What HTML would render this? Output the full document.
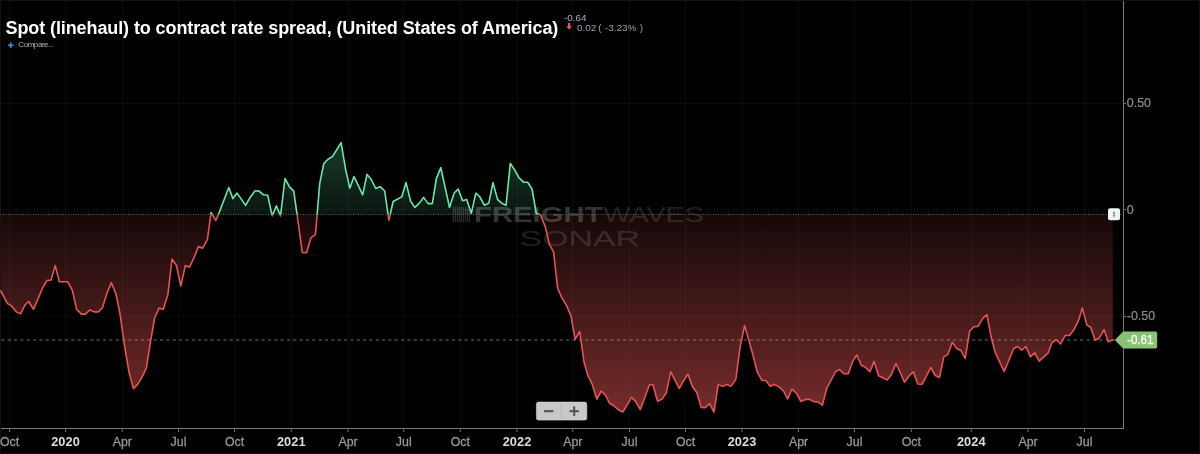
<!DOCTYPE html>
<html lang="en">
<head>
<meta charset="utf-8">
<title>Spot (linehaul) to contract rate spread</title>
<style>
html,body{margin:0;padding:0;background:#000;}
body{width:1200px;height:454px;overflow:hidden;position:relative;font-family:"Liberation Sans",sans-serif;}
#frame{position:absolute;left:0;top:0;width:1198px;height:452px;border:1px solid #121212;}
svg{position:absolute;left:0;top:0;}
.mo{font:12px "Liberation Sans",sans-serif;fill:#9a9a9a;stroke:#9a9a9a;stroke-width:0.25px;}
.yr{font:bold 12px "Liberation Sans",sans-serif;fill:#dcdcdc;}
.yl{font:12px "Liberation Sans",sans-serif;fill:#8e8e8e;stroke:#8e8e8e;stroke-width:0.2px;}
#title{position:absolute;left:5.5px;top:17px;font:bold 18px/22px "Liberation Sans",sans-serif;color:#fff;white-space:nowrap;letter-spacing:-0.1px;}
#cmp{position:absolute;left:18.3px;top:40px;font:8px/10px "Liberation Sans",sans-serif;color:#a9b0bf;white-space:nowrap;letter-spacing:-0.44px;}
#v1{position:absolute;left:564px;top:13.9px;font:8.2px/10px "Liberation Sans",sans-serif;color:#a6adbb;white-space:nowrap;transform:scaleX(1.2);transform-origin:0 0;}
#v2{position:absolute;left:577px;top:23.0px;font:9px/11px "Liberation Sans",sans-serif;color:#98a0b0;white-space:nowrap;transform:scaleX(1.105);transform-origin:0 0;}
#v2 span{margin-left:1.6px;word-spacing:0.6px;}
</style>
</head>
<body>
<div id="frame"></div>
<svg width="1200" height="454" viewBox="0 0 1200 454">
<defs>
<linearGradient id="gt" gradientUnits="userSpaceOnUse" x1="0" y1="0" x2="0" y2="214.5">
<stop offset="0" stop-color="#69f0ae" stop-opacity="0.55"/><stop offset="1" stop-color="#69f0ae" stop-opacity="0.09"/>
</linearGradient>
<linearGradient id="gb" gradientUnits="userSpaceOnUse" x1="0" y1="214.5" x2="0" y2="428">
<stop offset="0" stop-color="#e45454" stop-opacity="0.10"/><stop offset="1" stop-color="#e45454" stop-opacity="0.55"/>
</linearGradient>
<clipPath id="ct"><rect x="0" y="0" width="1123" height="214.5"/></clipPath>
<clipPath id="cb"><rect x="0" y="214.5" width="1123" height="213.5"/></clipPath>
</defs>
<g clip-path="url(#ct)"><path d="M0.8 214.5 L0.8 291.0 L7.5 303.6 L11.4 305.7 L16.4 311.9 L20.4 313.9 L25.1 304.9 L28.8 301.5 L33.5 309.4 L42.7 287.7 L46.9 280.5 L51.0 280.1 L55.2 265.6 L59.4 281.8 L67.8 281.8 L72.3 290.2 L76.7 309.4 L81.5 314.1 L85.4 314.1 L89.9 309.9 L94.6 311.9 L98.4 311.9 L102.4 307.7 L107.1 292.7 L111.3 282.6 L115.8 293.5 L119.7 311.9 L125.1 349.3 L129.3 373.6 L133.5 388.6 L137.7 384.4 L142.2 376.9 L146.4 367.7 L150.2 343.4 L154.6 318.0 L159.0 308.1 L163.2 309.4 L167.9 294.4 L172.0 259.0 L176.5 265.5 L180.8 286.0 L185.3 265.6 L189.5 267.2 L194.3 257.0 L198.5 246.4 L202.7 248.2 L207.4 239.4 L211.1 212.6 L215.8 220.5 L219.5 211.8 L228.8 187.5 L232.9 198.6 L237.1 193.1 L245.6 205.4 L250.3 197.2 L254.9 191.0 L258.7 190.8 L263.5 194.8 L267.7 195.2 L272.2 215.9 L276.4 205.9 L280.5 215.9 L285.0 178.5 L289.5 186.9 L293.7 191.1 L298.0 221.0 L302.3 252.4 L306.5 252.8 L311.0 237.7 L315.4 234.9 L319.7 183.6 L323.8 163.5 L328.0 159.3 L332.6 156.4 L341.1 142.6 L345.6 169.3 L349.8 188.2 L354.0 176.5 L362.7 194.8 L367.0 174.4 L371.0 179.0 L375.8 188.5 L380.2 186.7 L384.7 191.0 L388.9 220.3 L393.1 201.5 L401.8 196.9 L406.0 182.6 L410.7 201.5 L414.9 207.4 L419.4 203.1 L423.6 197.4 L428.1 203.6 L432.3 203.6 L436.4 178.5 L440.8 167.6 L449.5 207.4 L454.2 193.0 L458.2 189.0 L462.6 200.7 L466.7 199.4 L471.3 213.3 L475.8 193.2 L479.6 196.5 L484.3 205.2 L488.8 203.2 L493.0 182.6 L497.5 199.4 L502.2 203.6 L506.1 205.2 L510.3 163.4 L514.8 170.1 L518.9 177.6 L523.5 182.1 L527.7 182.3 L532.0 189.0 L536.3 213.4 L540.5 214.8 L545.2 226.5 L549.4 244.3 L553.6 251.8 L557.6 288.0 L561.8 297.6 L566.4 305.1 L571.0 316.0 L575.1 339.4 L579.7 331.5 L584.0 362.0 L588.1 376.0 L592.3 384.4 L596.8 399.1 L601.3 391.0 L605.2 394.9 L609.7 403.3 L613.9 405.8 L618.6 410.0 L622.8 412.0 L626.9 405.3 L631.5 397.4 L635.8 401.6 L640.3 409.5 L649.5 384.7 L652.9 384.7 L657.6 401.4 L662.1 399.1 L666.3 392.7 L670.8 371.8 L679.2 388.5 L683.9 380.2 L688.0 374.3 L692.2 386.0 L696.9 392.7 L701.1 407.4 L705.3 407.8 L709.5 403.6 L714.0 412.0 L718.2 384.4 L722.3 386.4 L726.9 384.4 L731.0 386.4 L735.8 379.4 L740.1 346.8 L744.6 325.6 L748.8 340.1 L753.0 355.2 L757.2 371.7 L761.8 380.2 L765.8 380.5 L770.1 386.3 L774.3 384.4 L778.8 386.6 L783.5 391.0 L787.7 399.0 L791.9 389.0 L796.4 393.2 L800.8 401.4 L805.3 399.4 L809.5 399.4 L813.6 401.5 L817.8 401.9 L822.3 405.2 L826.7 388.5 L835.4 371.8 L839.5 369.5 L844.0 373.8 L848.3 373.8 L852.6 361.4 L856.8 355.0 L861.3 365.2 L865.4 367.4 L869.9 371.7 L874.1 361.4 L878.6 375.7 L883.0 377.8 L887.2 380.0 L891.4 374.4 L895.9 363.5 L900.0 372.0 L904.5 382.3 L909.0 376.0 L913.5 371.8 L917.7 384.0 L922.1 384.3 L930.8 367.5 L935.2 375.5 L939.5 377.6 L943.8 356.9 L947.9 354.4 L952.3 342.3 L956.8 348.5 L961.0 350.5 L965.2 358.6 L969.7 331.0 L973.9 326.8 L978.1 326.4 L982.8 318.4 L986.9 314.7 L991.1 336.8 L995.3 352.7 L1004.2 371.5 L1013.7 348.5 L1017.6 346.5 L1021.8 350.2 L1025.9 346.5 L1030.5 356.9 L1034.6 352.7 L1039.2 361.1 L1048.0 353.1 L1052.2 342.3 L1056.4 339.8 L1060.6 344.0 L1065.1 335.5 L1069.5 335.5 L1073.6 330.1 L1078.2 321.4 L1082.3 308.0 L1086.9 325.1 L1090.7 327.3 L1095.2 340.2 L1099.6 337.7 L1104.1 329.6 L1108.3 341.8 L1112.8 339.8 L1112.8 214.5 Z" fill="url(#gt)"/></g>
<g clip-path="url(#cb)"><path d="M0.8 214.5 L0.8 291.0 L7.5 303.6 L11.4 305.7 L16.4 311.9 L20.4 313.9 L25.1 304.9 L28.8 301.5 L33.5 309.4 L42.7 287.7 L46.9 280.5 L51.0 280.1 L55.2 265.6 L59.4 281.8 L67.8 281.8 L72.3 290.2 L76.7 309.4 L81.5 314.1 L85.4 314.1 L89.9 309.9 L94.6 311.9 L98.4 311.9 L102.4 307.7 L107.1 292.7 L111.3 282.6 L115.8 293.5 L119.7 311.9 L125.1 349.3 L129.3 373.6 L133.5 388.6 L137.7 384.4 L142.2 376.9 L146.4 367.7 L150.2 343.4 L154.6 318.0 L159.0 308.1 L163.2 309.4 L167.9 294.4 L172.0 259.0 L176.5 265.5 L180.8 286.0 L185.3 265.6 L189.5 267.2 L194.3 257.0 L198.5 246.4 L202.7 248.2 L207.4 239.4 L211.1 212.6 L215.8 220.5 L219.5 211.8 L228.8 187.5 L232.9 198.6 L237.1 193.1 L245.6 205.4 L250.3 197.2 L254.9 191.0 L258.7 190.8 L263.5 194.8 L267.7 195.2 L272.2 215.9 L276.4 205.9 L280.5 215.9 L285.0 178.5 L289.5 186.9 L293.7 191.1 L298.0 221.0 L302.3 252.4 L306.5 252.8 L311.0 237.7 L315.4 234.9 L319.7 183.6 L323.8 163.5 L328.0 159.3 L332.6 156.4 L341.1 142.6 L345.6 169.3 L349.8 188.2 L354.0 176.5 L362.7 194.8 L367.0 174.4 L371.0 179.0 L375.8 188.5 L380.2 186.7 L384.7 191.0 L388.9 220.3 L393.1 201.5 L401.8 196.9 L406.0 182.6 L410.7 201.5 L414.9 207.4 L419.4 203.1 L423.6 197.4 L428.1 203.6 L432.3 203.6 L436.4 178.5 L440.8 167.6 L449.5 207.4 L454.2 193.0 L458.2 189.0 L462.6 200.7 L466.7 199.4 L471.3 213.3 L475.8 193.2 L479.6 196.5 L484.3 205.2 L488.8 203.2 L493.0 182.6 L497.5 199.4 L502.2 203.6 L506.1 205.2 L510.3 163.4 L514.8 170.1 L518.9 177.6 L523.5 182.1 L527.7 182.3 L532.0 189.0 L536.3 213.4 L540.5 214.8 L545.2 226.5 L549.4 244.3 L553.6 251.8 L557.6 288.0 L561.8 297.6 L566.4 305.1 L571.0 316.0 L575.1 339.4 L579.7 331.5 L584.0 362.0 L588.1 376.0 L592.3 384.4 L596.8 399.1 L601.3 391.0 L605.2 394.9 L609.7 403.3 L613.9 405.8 L618.6 410.0 L622.8 412.0 L626.9 405.3 L631.5 397.4 L635.8 401.6 L640.3 409.5 L649.5 384.7 L652.9 384.7 L657.6 401.4 L662.1 399.1 L666.3 392.7 L670.8 371.8 L679.2 388.5 L683.9 380.2 L688.0 374.3 L692.2 386.0 L696.9 392.7 L701.1 407.4 L705.3 407.8 L709.5 403.6 L714.0 412.0 L718.2 384.4 L722.3 386.4 L726.9 384.4 L731.0 386.4 L735.8 379.4 L740.1 346.8 L744.6 325.6 L748.8 340.1 L753.0 355.2 L757.2 371.7 L761.8 380.2 L765.8 380.5 L770.1 386.3 L774.3 384.4 L778.8 386.6 L783.5 391.0 L787.7 399.0 L791.9 389.0 L796.4 393.2 L800.8 401.4 L805.3 399.4 L809.5 399.4 L813.6 401.5 L817.8 401.9 L822.3 405.2 L826.7 388.5 L835.4 371.8 L839.5 369.5 L844.0 373.8 L848.3 373.8 L852.6 361.4 L856.8 355.0 L861.3 365.2 L865.4 367.4 L869.9 371.7 L874.1 361.4 L878.6 375.7 L883.0 377.8 L887.2 380.0 L891.4 374.4 L895.9 363.5 L900.0 372.0 L904.5 382.3 L909.0 376.0 L913.5 371.8 L917.7 384.0 L922.1 384.3 L930.8 367.5 L935.2 375.5 L939.5 377.6 L943.8 356.9 L947.9 354.4 L952.3 342.3 L956.8 348.5 L961.0 350.5 L965.2 358.6 L969.7 331.0 L973.9 326.8 L978.1 326.4 L982.8 318.4 L986.9 314.7 L991.1 336.8 L995.3 352.7 L1004.2 371.5 L1013.7 348.5 L1017.6 346.5 L1021.8 350.2 L1025.9 346.5 L1030.5 356.9 L1034.6 352.7 L1039.2 361.1 L1048.0 353.1 L1052.2 342.3 L1056.4 339.8 L1060.6 344.0 L1065.1 335.5 L1069.5 335.5 L1073.6 330.1 L1078.2 321.4 L1082.3 308.0 L1086.9 325.1 L1090.7 327.3 L1095.2 340.2 L1099.6 337.7 L1104.1 329.6 L1108.3 341.8 L1112.8 339.8 L1112.8 214.5 Z" fill="url(#gb)"/></g>
<g stroke="rgba(255,255,255,0.04)" stroke-width="1" shape-rendering="crispEdges"><line x1="9.5" y1="1" x2="9.5" y2="428" /><line x1="65.5" y1="1" x2="65.5" y2="428" /><line x1="122.25" y1="1" x2="122.25" y2="428" /><line x1="178.5" y1="1" x2="178.5" y2="428" /><line x1="234.5" y1="1" x2="234.5" y2="428" /><line x1="291.25" y1="1" x2="291.25" y2="428" /><line x1="348" y1="1" x2="348" y2="428" /><line x1="403.75" y1="1" x2="403.75" y2="428" /><line x1="460.25" y1="1" x2="460.25" y2="428" /><line x1="517" y1="1" x2="517" y2="428" /><line x1="572.75" y1="1" x2="572.75" y2="428" /><line x1="629.5" y1="1" x2="629.5" y2="428" /><line x1="685.5" y1="1" x2="685.5" y2="428" /><line x1="742" y1="1" x2="742" y2="428" /><line x1="798.5" y1="1" x2="798.5" y2="428" /><line x1="854.5" y1="1" x2="854.5" y2="428" /><line x1="911.25" y1="1" x2="911.25" y2="428" /><line x1="971.25" y1="1" x2="971.25" y2="428" /><line x1="1028" y1="1" x2="1028" y2="428" /><line x1="1084.5" y1="1" x2="1084.5" y2="428" /><line x1="0" y1="103" x2="1123" y2="103" /><line x1="0" y1="209.5" x2="1123" y2="209.5" /><line x1="0" y1="316" x2="1123" y2="316" /></g>
<g id="wm" fill="#ffffff" fill-opacity="0.17">
<g id="wmicon"><rect x="452.70" y="206.8" width="1.25" height="15.2"/><rect x="454.72" y="206.8" width="1.25" height="15.2"/><rect x="456.74" y="206.8" width="1.25" height="15.2"/><rect x="458.76" y="206.8" width="1.25" height="15.2"/><rect x="460.78" y="206.8" width="1.25" height="15.2"/><rect x="462.80" y="206.8" width="1.25" height="15.2"/><rect x="464.82" y="206.8" width="1.25" height="15.2"/><rect x="466.84" y="206.8" width="1.25" height="15.2"/><rect x="468.86" y="206.8" width="1.25" height="15.2"/></g>
<text x="474" y="222" textLength="128.6" lengthAdjust="spacingAndGlyphs" fill-opacity="0.2" style="font:bold 21.3px 'Liberation Sans',sans-serif">FREIGHT</text>
<text x="603.4" y="222" textLength="100.4" lengthAdjust="spacingAndGlyphs" fill-opacity="0.12" style="font:21.3px 'Liberation Sans',sans-serif">WAVES</text>
<text x="519.6" y="246.4" textLength="120.5" lengthAdjust="spacingAndGlyphs" fill-opacity="0.12" style="font:22.8px 'Liberation Sans',sans-serif">SONAR</text>
</g>
<line x1="0" y1="214.5" x2="1123" y2="214.5" stroke="#55646a" stroke-width="1" stroke-dasharray="1 1.5" stroke-dashoffset="-0.5"/>
<line x1="0" y1="340" x2="1116" y2="340" stroke="#96b97d" stroke-opacity="0.43" stroke-width="1.4" stroke-dasharray="3.2 3.145" stroke-dashoffset="-1.33"/>
<g clip-path="url(#ct)"><path d="M0.8 291.0 L7.5 303.6 L11.4 305.7 L16.4 311.9 L20.4 313.9 L25.1 304.9 L28.8 301.5 L33.5 309.4 L42.7 287.7 L46.9 280.5 L51.0 280.1 L55.2 265.6 L59.4 281.8 L67.8 281.8 L72.3 290.2 L76.7 309.4 L81.5 314.1 L85.4 314.1 L89.9 309.9 L94.6 311.9 L98.4 311.9 L102.4 307.7 L107.1 292.7 L111.3 282.6 L115.8 293.5 L119.7 311.9 L125.1 349.3 L129.3 373.6 L133.5 388.6 L137.7 384.4 L142.2 376.9 L146.4 367.7 L150.2 343.4 L154.6 318.0 L159.0 308.1 L163.2 309.4 L167.9 294.4 L172.0 259.0 L176.5 265.5 L180.8 286.0 L185.3 265.6 L189.5 267.2 L194.3 257.0 L198.5 246.4 L202.7 248.2 L207.4 239.4 L211.1 212.6 L215.8 220.5 L219.5 211.8 L228.8 187.5 L232.9 198.6 L237.1 193.1 L245.6 205.4 L250.3 197.2 L254.9 191.0 L258.7 190.8 L263.5 194.8 L267.7 195.2 L272.2 215.9 L276.4 205.9 L280.5 215.9 L285.0 178.5 L289.5 186.9 L293.7 191.1 L298.0 221.0 L302.3 252.4 L306.5 252.8 L311.0 237.7 L315.4 234.9 L319.7 183.6 L323.8 163.5 L328.0 159.3 L332.6 156.4 L341.1 142.6 L345.6 169.3 L349.8 188.2 L354.0 176.5 L362.7 194.8 L367.0 174.4 L371.0 179.0 L375.8 188.5 L380.2 186.7 L384.7 191.0 L388.9 220.3 L393.1 201.5 L401.8 196.9 L406.0 182.6 L410.7 201.5 L414.9 207.4 L419.4 203.1 L423.6 197.4 L428.1 203.6 L432.3 203.6 L436.4 178.5 L440.8 167.6 L449.5 207.4 L454.2 193.0 L458.2 189.0 L462.6 200.7 L466.7 199.4 L471.3 213.3 L475.8 193.2 L479.6 196.5 L484.3 205.2 L488.8 203.2 L493.0 182.6 L497.5 199.4 L502.2 203.6 L506.1 205.2 L510.3 163.4 L514.8 170.1 L518.9 177.6 L523.5 182.1 L527.7 182.3 L532.0 189.0 L536.3 213.4 L540.5 214.8 L545.2 226.5 L549.4 244.3 L553.6 251.8 L557.6 288.0 L561.8 297.6 L566.4 305.1 L571.0 316.0 L575.1 339.4 L579.7 331.5 L584.0 362.0 L588.1 376.0 L592.3 384.4 L596.8 399.1 L601.3 391.0 L605.2 394.9 L609.7 403.3 L613.9 405.8 L618.6 410.0 L622.8 412.0 L626.9 405.3 L631.5 397.4 L635.8 401.6 L640.3 409.5 L649.5 384.7 L652.9 384.7 L657.6 401.4 L662.1 399.1 L666.3 392.7 L670.8 371.8 L679.2 388.5 L683.9 380.2 L688.0 374.3 L692.2 386.0 L696.9 392.7 L701.1 407.4 L705.3 407.8 L709.5 403.6 L714.0 412.0 L718.2 384.4 L722.3 386.4 L726.9 384.4 L731.0 386.4 L735.8 379.4 L740.1 346.8 L744.6 325.6 L748.8 340.1 L753.0 355.2 L757.2 371.7 L761.8 380.2 L765.8 380.5 L770.1 386.3 L774.3 384.4 L778.8 386.6 L783.5 391.0 L787.7 399.0 L791.9 389.0 L796.4 393.2 L800.8 401.4 L805.3 399.4 L809.5 399.4 L813.6 401.5 L817.8 401.9 L822.3 405.2 L826.7 388.5 L835.4 371.8 L839.5 369.5 L844.0 373.8 L848.3 373.8 L852.6 361.4 L856.8 355.0 L861.3 365.2 L865.4 367.4 L869.9 371.7 L874.1 361.4 L878.6 375.7 L883.0 377.8 L887.2 380.0 L891.4 374.4 L895.9 363.5 L900.0 372.0 L904.5 382.3 L909.0 376.0 L913.5 371.8 L917.7 384.0 L922.1 384.3 L930.8 367.5 L935.2 375.5 L939.5 377.6 L943.8 356.9 L947.9 354.4 L952.3 342.3 L956.8 348.5 L961.0 350.5 L965.2 358.6 L969.7 331.0 L973.9 326.8 L978.1 326.4 L982.8 318.4 L986.9 314.7 L991.1 336.8 L995.3 352.7 L1004.2 371.5 L1013.7 348.5 L1017.6 346.5 L1021.8 350.2 L1025.9 346.5 L1030.5 356.9 L1034.6 352.7 L1039.2 361.1 L1048.0 353.1 L1052.2 342.3 L1056.4 339.8 L1060.6 344.0 L1065.1 335.5 L1069.5 335.5 L1073.6 330.1 L1078.2 321.4 L1082.3 308.0 L1086.9 325.1 L1090.7 327.3 L1095.2 340.2 L1099.6 337.7 L1104.1 329.6 L1108.3 341.8 L1112.8 339.8" fill="none" stroke="#69e8a8" stroke-width="1.6" stroke-linejoin="round" stroke-linecap="round"/></g>
<g clip-path="url(#cb)"><path d="M0.8 291.0 L7.5 303.6 L11.4 305.7 L16.4 311.9 L20.4 313.9 L25.1 304.9 L28.8 301.5 L33.5 309.4 L42.7 287.7 L46.9 280.5 L51.0 280.1 L55.2 265.6 L59.4 281.8 L67.8 281.8 L72.3 290.2 L76.7 309.4 L81.5 314.1 L85.4 314.1 L89.9 309.9 L94.6 311.9 L98.4 311.9 L102.4 307.7 L107.1 292.7 L111.3 282.6 L115.8 293.5 L119.7 311.9 L125.1 349.3 L129.3 373.6 L133.5 388.6 L137.7 384.4 L142.2 376.9 L146.4 367.7 L150.2 343.4 L154.6 318.0 L159.0 308.1 L163.2 309.4 L167.9 294.4 L172.0 259.0 L176.5 265.5 L180.8 286.0 L185.3 265.6 L189.5 267.2 L194.3 257.0 L198.5 246.4 L202.7 248.2 L207.4 239.4 L211.1 212.6 L215.8 220.5 L219.5 211.8 L228.8 187.5 L232.9 198.6 L237.1 193.1 L245.6 205.4 L250.3 197.2 L254.9 191.0 L258.7 190.8 L263.5 194.8 L267.7 195.2 L272.2 215.9 L276.4 205.9 L280.5 215.9 L285.0 178.5 L289.5 186.9 L293.7 191.1 L298.0 221.0 L302.3 252.4 L306.5 252.8 L311.0 237.7 L315.4 234.9 L319.7 183.6 L323.8 163.5 L328.0 159.3 L332.6 156.4 L341.1 142.6 L345.6 169.3 L349.8 188.2 L354.0 176.5 L362.7 194.8 L367.0 174.4 L371.0 179.0 L375.8 188.5 L380.2 186.7 L384.7 191.0 L388.9 220.3 L393.1 201.5 L401.8 196.9 L406.0 182.6 L410.7 201.5 L414.9 207.4 L419.4 203.1 L423.6 197.4 L428.1 203.6 L432.3 203.6 L436.4 178.5 L440.8 167.6 L449.5 207.4 L454.2 193.0 L458.2 189.0 L462.6 200.7 L466.7 199.4 L471.3 213.3 L475.8 193.2 L479.6 196.5 L484.3 205.2 L488.8 203.2 L493.0 182.6 L497.5 199.4 L502.2 203.6 L506.1 205.2 L510.3 163.4 L514.8 170.1 L518.9 177.6 L523.5 182.1 L527.7 182.3 L532.0 189.0 L536.3 213.4 L540.5 214.8 L545.2 226.5 L549.4 244.3 L553.6 251.8 L557.6 288.0 L561.8 297.6 L566.4 305.1 L571.0 316.0 L575.1 339.4 L579.7 331.5 L584.0 362.0 L588.1 376.0 L592.3 384.4 L596.8 399.1 L601.3 391.0 L605.2 394.9 L609.7 403.3 L613.9 405.8 L618.6 410.0 L622.8 412.0 L626.9 405.3 L631.5 397.4 L635.8 401.6 L640.3 409.5 L649.5 384.7 L652.9 384.7 L657.6 401.4 L662.1 399.1 L666.3 392.7 L670.8 371.8 L679.2 388.5 L683.9 380.2 L688.0 374.3 L692.2 386.0 L696.9 392.7 L701.1 407.4 L705.3 407.8 L709.5 403.6 L714.0 412.0 L718.2 384.4 L722.3 386.4 L726.9 384.4 L731.0 386.4 L735.8 379.4 L740.1 346.8 L744.6 325.6 L748.8 340.1 L753.0 355.2 L757.2 371.7 L761.8 380.2 L765.8 380.5 L770.1 386.3 L774.3 384.4 L778.8 386.6 L783.5 391.0 L787.7 399.0 L791.9 389.0 L796.4 393.2 L800.8 401.4 L805.3 399.4 L809.5 399.4 L813.6 401.5 L817.8 401.9 L822.3 405.2 L826.7 388.5 L835.4 371.8 L839.5 369.5 L844.0 373.8 L848.3 373.8 L852.6 361.4 L856.8 355.0 L861.3 365.2 L865.4 367.4 L869.9 371.7 L874.1 361.4 L878.6 375.7 L883.0 377.8 L887.2 380.0 L891.4 374.4 L895.9 363.5 L900.0 372.0 L904.5 382.3 L909.0 376.0 L913.5 371.8 L917.7 384.0 L922.1 384.3 L930.8 367.5 L935.2 375.5 L939.5 377.6 L943.8 356.9 L947.9 354.4 L952.3 342.3 L956.8 348.5 L961.0 350.5 L965.2 358.6 L969.7 331.0 L973.9 326.8 L978.1 326.4 L982.8 318.4 L986.9 314.7 L991.1 336.8 L995.3 352.7 L1004.2 371.5 L1013.7 348.5 L1017.6 346.5 L1021.8 350.2 L1025.9 346.5 L1030.5 356.9 L1034.6 352.7 L1039.2 361.1 L1048.0 353.1 L1052.2 342.3 L1056.4 339.8 L1060.6 344.0 L1065.1 335.5 L1069.5 335.5 L1073.6 330.1 L1078.2 321.4 L1082.3 308.0 L1086.9 325.1 L1090.7 327.3 L1095.2 340.2 L1099.6 337.7 L1104.1 329.6 L1108.3 341.8 L1112.8 339.8" fill="none" stroke="#e45454" stroke-width="1.6" stroke-linejoin="round" stroke-linecap="round"/></g>
<g stroke="#7a7a7a" stroke-width="1" shape-rendering="crispEdges">
<line x1="1123.5" y1="1" x2="1123.5" y2="428.5"/>
<line x1="1" y1="428.5" x2="1124" y2="428.5"/>
</g>
<g stroke="#6e6e6e" stroke-width="1"><line x1="9.5" y1="428" x2="9.5" y2="432" /><line x1="65.5" y1="428" x2="65.5" y2="432" /><line x1="122.25" y1="428" x2="122.25" y2="432" /><line x1="178.5" y1="428" x2="178.5" y2="432" /><line x1="234.5" y1="428" x2="234.5" y2="432" /><line x1="291.25" y1="428" x2="291.25" y2="432" /><line x1="348" y1="428" x2="348" y2="432" /><line x1="403.75" y1="428" x2="403.75" y2="432" /><line x1="460.25" y1="428" x2="460.25" y2="432" /><line x1="517" y1="428" x2="517" y2="432" /><line x1="572.75" y1="428" x2="572.75" y2="432" /><line x1="629.5" y1="428" x2="629.5" y2="432" /><line x1="685.5" y1="428" x2="685.5" y2="432" /><line x1="742" y1="428" x2="742" y2="432" /><line x1="798.5" y1="428" x2="798.5" y2="432" /><line x1="854.5" y1="428" x2="854.5" y2="432" /><line x1="911.25" y1="428" x2="911.25" y2="432" /><line x1="971.25" y1="428" x2="971.25" y2="432" /><line x1="1028" y1="428" x2="1028" y2="432" /><line x1="1084.5" y1="428" x2="1084.5" y2="432" /></g><g stroke="#6e6e6e" stroke-width="1" shape-rendering="crispEdges"><line x1="1123" y1="103" x2="1125.6" y2="103" /><line x1="1123" y1="209.5" x2="1125.6" y2="209.5" /><line x1="1123" y1="316" x2="1125.6" y2="316" /></g>
<text transform="translate(9.5 445.7) scale(1.03 1)" text-anchor="middle" class="mo">Oct</text><text transform="translate(65.5 445.7) scale(1.07 1)" text-anchor="middle" class="yr">2020</text><text transform="translate(122.25 445.7) scale(1.03 1)" text-anchor="middle" class="mo">Apr</text><text transform="translate(178.5 445.7) scale(1.03 1)" text-anchor="middle" class="mo">Jul</text><text transform="translate(234.5 445.7) scale(1.03 1)" text-anchor="middle" class="mo">Oct</text><text transform="translate(291.25 445.7) scale(1.07 1)" text-anchor="middle" class="yr">2021</text><text transform="translate(348 445.7) scale(1.03 1)" text-anchor="middle" class="mo">Apr</text><text transform="translate(403.75 445.7) scale(1.03 1)" text-anchor="middle" class="mo">Jul</text><text transform="translate(460.25 445.7) scale(1.03 1)" text-anchor="middle" class="mo">Oct</text><text transform="translate(517 445.7) scale(1.07 1)" text-anchor="middle" class="yr">2022</text><text transform="translate(572.75 445.7) scale(1.03 1)" text-anchor="middle" class="mo">Apr</text><text transform="translate(629.5 445.7) scale(1.03 1)" text-anchor="middle" class="mo">Jul</text><text transform="translate(685.5 445.7) scale(1.03 1)" text-anchor="middle" class="mo">Oct</text><text transform="translate(742 445.7) scale(1.07 1)" text-anchor="middle" class="yr">2023</text><text transform="translate(798.5 445.7) scale(1.03 1)" text-anchor="middle" class="mo">Apr</text><text transform="translate(854.5 445.7) scale(1.03 1)" text-anchor="middle" class="mo">Jul</text><text transform="translate(911.25 445.7) scale(1.03 1)" text-anchor="middle" class="mo">Oct</text><text transform="translate(971.25 445.7) scale(1.07 1)" text-anchor="middle" class="yr">2024</text><text transform="translate(1028 445.7) scale(1.03 1)" text-anchor="middle" class="mo">Apr</text><text transform="translate(1084.5 445.7) scale(1.03 1)" text-anchor="middle" class="mo">Jul</text><text transform="translate(1126.8 107.3) scale(1.035 1)" class="yl">0.50</text><text transform="translate(1126.8 213.8) scale(1.035 1)" class="yl">0</text><text transform="translate(1126.8 320.3) scale(1.035 1)" class="yl">-0.50</text>
<path d="M1114.8 340.1 L1123.2 331.6 H1155.2 Q1157.2 331.6 1157.2 333.6 V346.5 Q1157.2 348.5 1155.2 348.5 H1123.2 Z" fill="#88c274"/>
<text x="1127" y="344.3" textLength="26.6" lengthAdjust="spacingAndGlyphs" style="font:12.4px 'Liberation Sans',sans-serif" fill="#f2faee" stroke="#f2faee" stroke-width="0.4">-0.61</text>
<rect x="1108" y="208.3" width="12" height="12" rx="2" fill="#f3f3f3"/>
<path d="M1114 211.3 L1115.4 213.2 H1114.6 V215.4 H1115.4 L1114 217.3 L1112.6 215.4 H1113.4 V213.2 H1112.6 Z" fill="#5b86d6"/>
<g>
<rect x="536.4" y="402.1" width="50.4" height="18" rx="2.2" fill="#c8c8c8" stroke="#d6d6d6" stroke-width="0.6"/>
<line x1="561.3" y1="403" x2="561.3" y2="419" stroke="#b8b8b8" stroke-width="0.8"/>
<rect x="544" y="410.1" width="9.4" height="2.1" fill="#555"/>
<rect x="569.5" y="410.1" width="9.4" height="2.1" fill="#555"/>
<rect x="573.15" y="406.4" width="2.1" height="9.5" fill="#555"/>
</g>
<path d="M8 45.3 H13.5 M10.75 42.5 V48" stroke="#3d8fd6" stroke-width="1.5" fill="none"/>
<path d="M568 23 H570.3 V26.3 H572 L569.15 29.8 L566.3 26.3 H568 Z" fill="#e05555"/>
</svg>
<div id="title">Spot (linehaul) to contract rate spread, (United States of America)</div>
<div id="cmp">Compare...</div>
<div id="v1">-0.64</div>
<div id="v2">0.02<span>( -3.23% )</span></div>
</body>
</html>
